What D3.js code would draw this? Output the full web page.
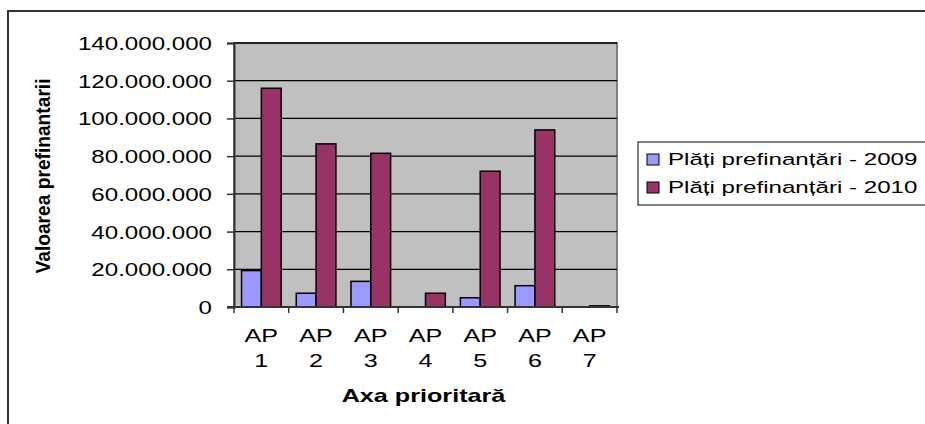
<!DOCTYPE html>
<html>
<head>
<meta charset="utf-8">
<script src="https://cdn.jsdelivr.net/npm/d3@7"></script>
<style>
  body { margin: 0; background: #fff; }
  text { font-family: "Liberation Sans", Arial, sans-serif; fill: #000; }
</style>
</head>
<body>
<svg id="chart" width="925" height="424"></svg>
<script>
// dati
const categories = ['AP 1', 'AP 2', 'AP 3', 'AP 4', 'AP 5', 'AP 6', 'AP 7']
const plati2009 = [19300000, 7300000, 13600000, 0, 4900000, 11300000, 0]
const plati2010 = [116000000, 86500000, 81500000, 7300000, 72000000, 93900000, 600000]
const seriesNames = ['Plăți prefinanțări - 2009', 'Plăți prefinanțări - 2010']
const yTicks = [0, 20000000, 40000000, 60000000, 80000000, 100000000, 120000000, 140000000]

const colors = ['#9999FF', '#993366']
const plotBg = '#C0C0C0'
// il testo dell'originale e' allargato in orizzontale
const stretch = 1.4

const svg = d3.select('#chart')

// cornice esterna
svg.append('rect')
  .attr('x', 8).attr('y', 11)
  .attr('width', 940).attr('height', 440)
  .attr('fill', 'none')
  .attr('stroke', '#333')
  .attr('stroke-width', 2)

const plot = { left: 234, right: 617, top: 43, bottom: 307 }

const xScale = d3.scaleBand()
  .domain(categories)
  .range([plot.left, plot.right])

const xInner = d3.scaleBand()
  .domain([0, 1])
  .range([0, xScale.bandwidth()])
  .paddingInner(0)
  .paddingOuter(0.38)

const yScale = d3.scaleLinear()
  .domain([0, 140000000])
  .range([plot.bottom, plot.top])

// sfondo area grafico
svg.append('rect')
  .attr('x', plot.left).attr('y', plot.top)
  .attr('width', plot.right - plot.left)
  .attr('height', plot.bottom - plot.top)
  .attr('fill', plotBg)
  .attr('stroke', '#808080')
  .attr('stroke-width', 2)

// griglia
svg.append('g')
  .selectAll('line')
  .data(yTicks.filter(d => d > 0))
  .join('line')
  .attr('x1', plot.left).attr('x2', plot.right)
  .attr('y1', d => yScale(d)).attr('y2', d => yScale(d))
  .attr('stroke', '#000')
  .attr('stroke-width', 1.3)

// asse y
const fmt = d => d3.format(',')(d).replace(/,/g, '.')
const yAxisGroup = svg.append('g')
  .attr('transform', `translate(${plot.left}, 0)`)
  .call(d3.axisLeft(yScale).tickValues(yTicks).tickSize(7).tickPadding(0).tickFormat(fmt))
yAxisGroup.select('.domain').attr('stroke', '#333').attr('stroke-width', 2)
yAxisGroup.selectAll('.tick line').attr('stroke', '#333').attr('stroke-width', 1.5)
yAxisGroup.selectAll('.tick text')
  .attr('x', 0)
  .attr('dy', '0.36em')
  .attr('transform', `translate(-22, 0) scale(1.34, 1)`)
  .style('font-family', '"Liberation Sans", Arial, sans-serif')
  .style('font-size', '18px')
  .attr('fill', '#000')

// barre
const groups = svg.append('g')
  .selectAll('g')
  .data(categories.map((c, i) => ({ c, vals: [plati2009[i], plati2010[i]] })))
  .join('g')
  .attr('transform', d => `translate(${xScale(d.c)}, 0)`)

groups.selectAll('rect')
  .data(d => d.vals.map((v, k) => ({ v, k })).filter(e => e.v > 0))
  .join('rect')
  .attr('x', e => xInner(e.k))
  .attr('width', xInner.bandwidth())
  .attr('y', e => yScale(e.v))
  .attr('height', e => plot.bottom - yScale(e.v))
  .attr('fill', e => colors[e.k])
  .attr('stroke', '#000')
  .attr('stroke-width', 1.5)

// asse x
const xAxisGroup = svg.append('g')
  .attr('transform', `translate(0, ${plot.bottom})`)
xAxisGroup.append('line')
  .attr('x1', plot.left - 7).attr('x2', plot.right + 2)
  .attr('stroke', '#333').attr('stroke-width', 2)
xAxisGroup.selectAll('line.tk')
  .data(d3.range(categories.length + 1))
  .join('line')
  .attr('class', 'tk')
  .attr('x1', i => plot.left + i * xScale.step())
  .attr('x2', i => plot.left + i * xScale.step())
  .attr('y1', 0).attr('y2', 6)
  .attr('stroke', '#333').attr('stroke-width', 1.5)

categories.forEach(d => {
  const parts = d.split(' ')
  parts.forEach((p, j) => {
    xAxisGroup.append('text')
      .attr('transform', `translate(${xScale(d) + xScale.bandwidth() / 2}, ${35 + j * 25}) scale(${stretch}, 1)`)
      .attr('text-anchor', 'middle')
      .style('font-size', '18px')
      .text(p)
  })
})

// titoli degli assi
svg.append('text')
  .attr('transform', `translate(${plot.left + (plot.right - plot.left) / 2 - 2}, 402) scale(${stretch}, 1)`)
  .attr('text-anchor', 'middle')
  .style('font-size', '18px')
  .style('font-weight', 'bold')
  .text('Axa prioritară')

svg.append('text')
  .attr('transform', `translate(50, 176) scale(${stretch}, 1) rotate(-90)`)
  .attr('text-anchor', 'middle')
  .style('font-size', '15px')
  .style('font-weight', 'bold')
  .attr('textLength', 195)
  .attr('lengthAdjust', 'spacingAndGlyphs')
  .text('Valoarea prefinantarii')

// legenda
const legend = svg.append('g').attr('transform', 'translate(638, 142)')
legend.append('rect')
  .attr('width', 300).attr('height', 63)
  .attr('fill', '#fff')
  .attr('stroke', '#000').attr('stroke-width', 1)
const items = legend.selectAll('g')
  .data(seriesNames)
  .join('g')
  .attr('transform', (d, i) => `translate(9, ${17 + i * 28})`)
items.append('rect')
  .attr('x', 0).attr('y', -5)
  .attr('width', 12).attr('height', 11)
  .attr('fill', (d, i) => colors[i])
  .attr('stroke', '#000').attr('stroke-width', 1)
items.append('text')
  .attr('transform', `translate(21, 6) scale(1.42, 1)`)
  .style('font-size', '17px')
  .text(d => d)
</script>
</body>
</html>
